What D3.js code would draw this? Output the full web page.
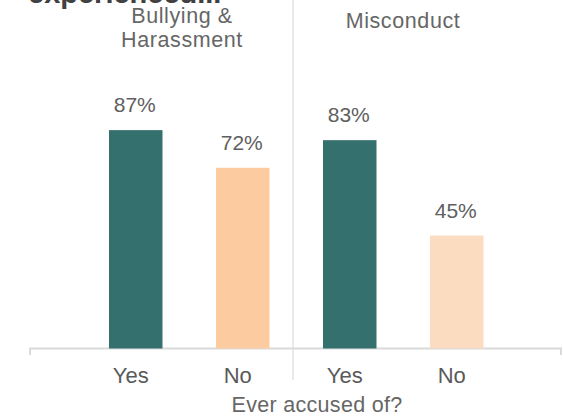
<!DOCTYPE html>
<html>
<head>
<meta charset="utf-8">
<script src="https://cdn.jsdelivr.net/npm/d3@7"></script>
<style>
  html, body { margin: 0; padding: 0; background: #fff; }
  svg { display: block; font-family: "Liberation Sans", Arial, Helvetica, sans-serif; }
</style>
</head>
<body>
<svg id="chart" width="563" height="420"></svg>
<script>
// Share reporting each experience, split by whether they were ever accused
const groupLines = [["Bullying &", "Harassment"], ["Misconduct"]];
const categories = ["Yes", "No"];
const bullyingValues = [87, 72];
const misconductValues = [83, 45];
const groupValues = [bullyingValues, misconductValues];
const barColors = [["#34706d", "#fccba0"], ["#34706d", "#fcdcc0"]];
const titleText = "experienced...";
const axisTitle = "Ever accused of?";

const svg = d3.select("#chart");

// flatten into one row per bar
const rows = [];
groupValues.forEach((vals, gi) => {
  vals.forEach((v, ci) => {
    rows.push({ key: gi + "-" + categories[ci], group: gi, cat: categories[ci], value: v, color: barColors[gi][ci] });
  });
});

const x = d3.scaleBand()
  .domain(rows.map(d => d.key))
  .range([82.25, 510.25])
  .paddingInner(0.5)
  .paddingOuter(0.25);

const y = d3.scaleLinear().domain([0, 100]).range([348.5, 97.5]);

const axisLeft = 30, axisRight = 561, dividerX = 293;

// title (first line sits above the frame)
svg.append("text")
  .attr("x", 28).attr("y", 2.5)
  .attr("font-size", 29).attr("font-weight", "bold")
  .attr("fill", "#404040")
  .text(titleText);

// divider between the two panels
svg.append("line")
  .attr("x1", dividerX).attr("x2", dividerX)
  .attr("y1", 0).attr("y2", 380)
  .attr("stroke", "#e3e3e3").attr("stroke-width", 1.5);

// baseline axis with end ticks
svg.append("path")
  .attr("fill", "none").attr("stroke", "#dadada").attr("stroke-width", 2)
  .attr("d", `M${axisLeft},355V${y(0)}H${axisRight}V355`);

// bars
svg.append("g").selectAll("rect")
  .data(rows)
  .join("rect")
  .attr("x", d => x(d.key))
  .attr("y", d => y(d.value))
  .attr("width", x.bandwidth())
  .attr("height", d => y(0) - y(d.value))
  .attr("fill", d => d.color);

// value labels
svg.append("g").selectAll("text")
  .data(rows)
  .join("text")
  .attr("x", d => x(d.key) + x.bandwidth() / 2 - 1)
  .attr("y", d => y(d.value) - 18)
  .attr("text-anchor", "middle")
  .attr("font-size", 21)
  .attr("fill", "#606060")
  .text(d => d.value + "%");

// category tick labels
svg.append("g").selectAll("text")
  .data(rows)
  .join("text")
  .attr("x", d => x(d.key) + x.bandwidth() / 2 - 5)
  .attr("y", 382.5)
  .attr("text-anchor", "middle")
  .attr("font-size", 22)
  .attr("fill", "#5a5a5a")
  .text(d => d.cat);

// panel headers
const headerCenters = [182, 403];
const headerTop = [23, 28];
groupLines.forEach((lines, gi) => {
  const t = svg.append("text")
    .attr("text-anchor", "middle")
    .attr("font-size", 21.5)
    .attr("letter-spacing", 0.6)
    .attr("fill", "#666666");
  lines.forEach((ln, li) => {
    t.append("tspan")
      .attr("x", headerCenters[gi])
      .attr("y", headerTop[gi] + li * 23.5)
      .text(ln);
  });
});

// axis title
svg.append("text")
  .attr("x", 317).attr("y", 412)
  .attr("text-anchor", "middle")
  .attr("font-size", 21.5)
  .attr("letter-spacing", 0.3)
  .attr("fill", "#666666")
  .text(axisTitle);
</script>
</body>
</html>
